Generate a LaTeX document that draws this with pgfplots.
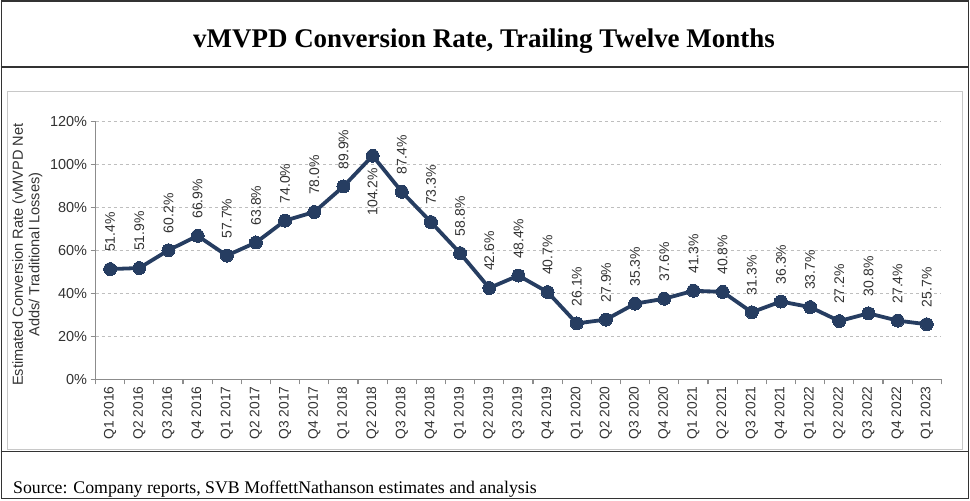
\documentclass[border=0pt]{standalone}
\usepackage{pgfplots}
\pgfplotsset{compat=1.18}
\usepackage{fontspec}
\setmainfont{Liberation Sans}
\newfontfamily\serifft{Liberation Serif}
\definecolor{navy}{RGB}{38,61,97}
\definecolor{axgray}{RGB}{140,140,140}
\definecolor{gridgray}{RGB}{190,190,190}
\definecolor{txt}{RGB}{50,50,50}
\definecolor{boxgray}{RGB}{200,200,200}
\pgfplotstableread{
x y
0 51.4
1 51.9
2 60.2
3 66.9
4 57.7
5 63.8
6 74.0
7 78.0
8 89.9
9 104.2
10 87.4
11 73.3
12 58.8
13 42.6
14 48.4
15 40.7
16 26.1
17 27.9
18 35.3
19 37.6
20 41.3
21 40.8
22 31.3
23 36.3
24 33.7
25 27.2
26 30.8
27 27.4
28 25.7
}\datatable
\pgfplotstableread{
x y
0 51.4
1 51.9
2 60.2
3 66.9
4 57.7
5 63.8
6 74.0
7 78.0
8 89.9
10 87.4
11 73.3
12 58.8
13 42.6
14 48.4
15 40.7
16 26.1
17 27.9
18 35.3
19 37.6
20 41.3
21 40.8
22 31.3
23 36.3
24 33.7
25 27.2
26 30.8
27 27.4
28 25.7
}\abovetable
\pgfplotstableread{
x y
9 104.2
}\belowtable
\begin{document}
\begin{tikzpicture}[x=1pt,y=1pt]
% frames
\draw[line width=1.6pt, black!80] (0.8,0.8) rectangle (969.2,499.2);
\draw[line width=1.4pt, black!80] (0,433) -- (970,433);
\draw[line width=1.4pt, black!80] (0,48) -- (970,48);
\draw[line width=0.8pt, boxgray] (7,50) rectangle (963,408);
\node[font=\serifft\bfseries\fontsize{27}{30}\selectfont] at (484,459) {vMVPD Conversion Rate, Trailing Twelve Months};
\node[font=\serifft\fontsize{17.8}{21}\selectfont, anchor=base west] at (9,6) {Source: Company reports, SVB MoffettNathanson estimates and analysis};
\node[rotate=90, inner sep=0pt, text=txt] at (27,245) {\fontsize{14.6}{17}\selectfont\begin{tabular}{@{}c@{}}Estimated Conversion Rate (vMVPD Net\\[-0.5pt]Adds/ Traditional Losses)\end{tabular}};
\begin{axis}[
  at={(95pt,120pt)}, anchor=south west,
  scale only axis, width=847pt, height=258pt,
  xmin=-0.5, xmax=28.5, ymin=0, ymax=120,
  axis lines*=left,
  axis line style={axgray, line width=1.3pt},
  every outer x axis line/.append style={-}, every outer y axis line/.append style={-},
  xtick={0,...,28},
  xticklabels={Q1 2016,Q2 2016,Q3 2016,Q4 2016,Q1 2017,Q2 2017,Q3 2017,Q4 2017,Q1 2018,Q2 2018,Q3 2018,Q4 2018,Q1 2019,Q2 2019,Q3 2019,Q4 2019,Q1 2020,Q2 2020,Q3 2020,Q4 2020,Q1 2021,Q2 2021,Q3 2021,Q4 2021,Q1 2022,Q2 2022,Q3 2022,Q4 2022,Q1 2023},
  major x tick style={draw=none},
  minor xtick={-0.5,0.5,...,28.5},
  minor x tick style={axgray, line width=1.2pt},
  minor tick length=5pt,
  xticklabel style={rotate=90, anchor=east, font=\fontsize{13.8}{16}\selectfont, text=txt, inner sep=2pt},
  ytick={0,20,...,120},
  yticklabel={\pgfmathprintnumber{\tick}\%},
  yticklabel style={font=\fontsize{14.5}{17}\selectfont, text=txt},
  y tick style={axgray, line width=1.2pt},
  major tick length=5pt,
  tick align=outside,
  /pgf/number format/assume math mode=true,
  ymajorgrids, grid style={gridgray, dashed, line width=0.9pt},
  clip=false,
]
\addplot[navy, line width=3.8pt, mark=*, mark size=6.5pt, mark options={fill=navy, draw=navy, line width=0pt}]
  table[x=x,y=y]{\datatable};
\addplot[draw=none, mark=none, point meta=y,
  nodes near coords={\pgfmathprintnumber[fixed,fixed zerofill,precision=1]{\pgfplotspointmeta}\%},
  every node near coord/.style={rotate=90, anchor=west, font=\fontsize{14}{16}\selectfont, text=txt, inner ysep=0pt, inner xsep=17pt}]
  table[x=x,y=y]{\abovetable};
\addplot[draw=none, mark=none, point meta=y,
  nodes near coords={\pgfmathprintnumber[fixed,fixed zerofill,precision=1]{\pgfplotspointmeta}\%},
  every node near coord/.style={rotate=90, anchor=east, font=\fontsize{14}{16}\selectfont, text=txt, inner ysep=0pt, inner xsep=12pt}]
  table[x=x,y=y]{\belowtable};
\end{axis}
\end{tikzpicture}
\end{document}
